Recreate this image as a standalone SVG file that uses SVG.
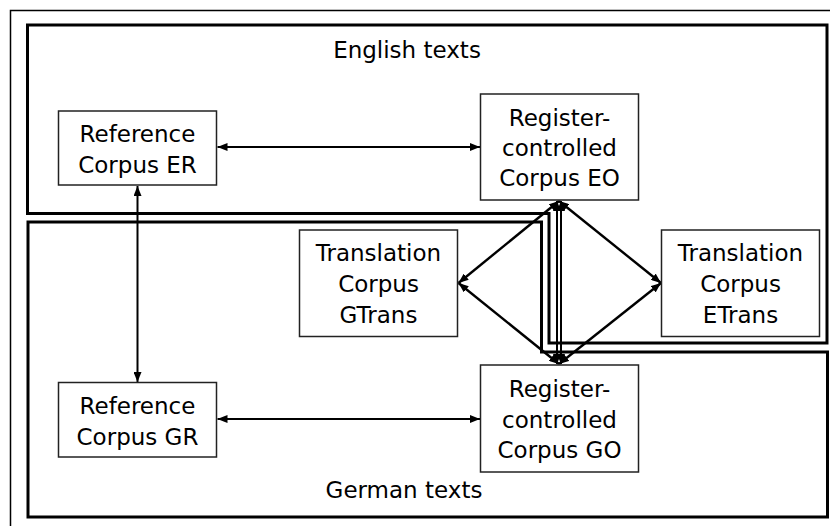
<svg xmlns="http://www.w3.org/2000/svg" width="830" height="526" viewBox="0 0 830 526">
  <defs>
    <style>
      .frame { fill: none; stroke: #000; stroke-width: 1.5; }
      .region { fill: none; stroke: #000; stroke-width: 3; stroke-linejoin: miter; }
      .box { fill: #fff; stroke: #222; stroke-width: 1.5; }
      .lbl { font-family: "DejaVu Sans", "Liberation Sans", sans-serif; font-size: 23px; fill: #000; text-anchor: middle; }
      .link { fill: none; stroke: #000; stroke-width: 2; marker-start: url(#tip); marker-end: url(#tip); }
      .diag { stroke-width: 2.4; }
    </style>
    <marker id="tip" viewBox="0 0 10 8" refX="10" refY="4" markerWidth="10" markerHeight="8" markerUnits="userSpaceOnUse" orient="auto-start-reverse">
      <path d="M0,0 L10,4 L0,8 Z" fill="#000"/>
    </marker>
  </defs>

  <rect width="830" height="526" fill="#fff"/>
  <!-- page frame -->
  <rect class="frame" x="10.5" y="10.5" width="830" height="530"/>

  <!-- language regions -->
  <g id="region-english">
    <path class="region" d="M27.5,25 H827 V343 H549 V213.5 H27.5 Z"/>
    <text class="lbl" x="407" y="58">English texts</text>
  </g>
  <g id="region-german">
    <path class="region" d="M28,222 H541.5 V352 H827.5 V517 H28 Z"/>
    <text class="lbl" x="404" y="498">German texts</text>
  </g>

  <!-- connectors -->
  <g id="connectors">
    <line class="link" x1="217.5" y1="147" x2="480" y2="147"/>
    <line class="link" x1="217.5" y1="419" x2="480" y2="419"/>
    <line class="link" x1="137.5" y1="186" x2="137.5" y2="382"/>
    <line class="link" x1="557" y1="201" x2="557" y2="364"/>
    <line class="link" x1="561" y1="201" x2="561" y2="364"/>
    <line class="link diag" x1="559" y1="201" x2="458.5" y2="283"/>
    <line class="link diag" x1="559" y1="201" x2="661" y2="283"/>
    <line class="link diag" x1="559" y1="364" x2="458.5" y2="283"/>
    <line class="link diag" x1="559" y1="364" x2="661" y2="283"/>
  </g>

  <!-- corpora -->
  <g id="node-er">
    <rect class="box" x="58.5" y="111" width="158" height="74"/>
    <text class="lbl" x="137.5" y="142">Reference</text>
    <text class="lbl" x="137.5" y="173">Corpus ER</text>
  </g>
  <g id="node-eo">
    <rect class="box" x="480.5" y="94" width="158" height="106"/>
    <text class="lbl" x="559.5" y="126">Register-</text>
    <text class="lbl" x="559.5" y="156">controlled</text>
    <text class="lbl" x="559.5" y="186">Corpus EO</text>
  </g>
  <g id="node-gtrans">
    <rect class="box" x="299.5" y="230" width="158" height="106.5"/>
    <text class="lbl" x="378.5" y="261">Translation</text>
    <text class="lbl" x="378.5" y="292">Corpus</text>
    <text class="lbl" x="378.5" y="323">GTrans</text>
  </g>
  <g id="node-etrans">
    <rect class="box" x="661.5" y="230" width="158" height="106.5"/>
    <text class="lbl" x="740.5" y="261">Translation</text>
    <text class="lbl" x="740.5" y="292">Corpus</text>
    <text class="lbl" x="740.5" y="323">ETrans</text>
  </g>
  <g id="node-gr">
    <rect class="box" x="58.5" y="382.5" width="158" height="74.5"/>
    <text class="lbl" x="137.5" y="414">Reference</text>
    <text class="lbl" x="137.5" y="445">Corpus GR</text>
  </g>
  <g id="node-go">
    <rect class="box" x="480.5" y="365" width="158" height="107"/>
    <text class="lbl" x="559.5" y="397">Register-</text>
    <text class="lbl" x="559.5" y="428">controlled</text>
    <text class="lbl" x="559.5" y="458">Corpus GO</text>
  </g>
</svg>
